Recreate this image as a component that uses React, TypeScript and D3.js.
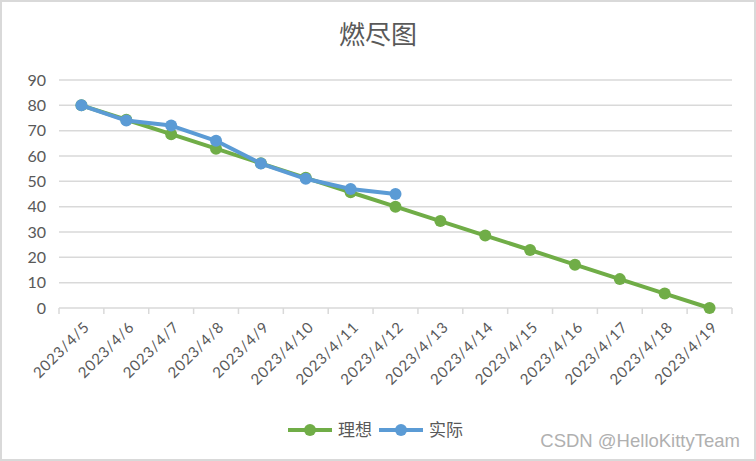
import React from 'react';
import * as d3 from 'd3';

const dates = [
  '2023/4/5', '2023/4/6', '2023/4/7', '2023/4/8', '2023/4/9', '2023/4/10', '2023/4/11', '2023/4/12',
  '2023/4/13', '2023/4/14', '2023/4/15', '2023/4/16', '2023/4/17', '2023/4/18', '2023/4/19',
];
const ideal = [80, 74.3, 68.6, 62.9, 57.1, 51.4, 45.7, 40, 34.3, 28.6, 22.9, 17.1, 11.4, 5.7, 0];
const actual = [80, 74, 72, 66, 57, 51, 47, 45];
const yTicks = [0, 10, 20, 30, 40, 50, 60, 70, 80, 90];

const W = 756;
const H = 461;
const GREEN = '#70ad47';
const BLUE = '#5b9bd5';
const TEXT = '#595959';
const numFont = 'Lato, "Noto Sans", sans-serif';
const cjkFont = '"Noto Sans CJK SC", sans-serif';

export default function App() {
  const x = d3.scaleBand<string>().domain(dates).range([59, 732]);
  const y = d3.scaleLinear().domain([0, 90]).range([308, 80]);
  const cx = (d: string) => (x(d) ?? 0) + x.bandwidth() / 2;

  const line = d3.line<number>()
    .x((_, i) => cx(dates[i]))
    .y(v => y(v));

  const series = [
    { name: '理想', values: ideal, color: GREEN },
    { name: '实际', values: actual, color: BLUE },
  ];

  const ticksX = [...dates.map(d => x(d) ?? 0), 732];

  return (
    <svg width={W} height={H} style={{ position: 'absolute', left: 0, top: 0 }}>
      <rect x={1} y={1} width={W - 2} height={H - 2} fill="#fff" stroke="#d9d9d9" strokeWidth={2} />
      <text x={378} y={44} textAnchor="middle" fontFamily={cjkFont} fontSize={26} fill={TEXT}>燃尽图</text>

      {yTicks.map(t => (
        <g key={t}>
          {t > 0 && <line x1={59} x2={732} y1={y(t)} y2={y(t)} stroke="#d9d9d9" strokeWidth={1.5} />}
          <text x={46} y={y(t) + 5.5} textAnchor="end" fontFamily={numFont} fontSize={16} fill={TEXT}>{t}</text>
        </g>
      ))}

      <line x1={59} x2={732} y1={y(0)} y2={y(0)} stroke="#d9d9d9" strokeWidth={1.5} />
      {ticksX.map((t, i) => (
        <line key={i} x1={t} x2={t} y1={y(0)} y2={y(0) + 6} stroke="#d9d9d9" strokeWidth={1.5} />
      ))}

      {dates.map(d => (
        <text key={d} transform={`translate(${cx(d) + 9},${y(0) + 20}) rotate(-45)`}
          textAnchor="end" fontFamily={numFont} fontSize={15} letterSpacing={0.8} fill={TEXT}>{d}</text>
      ))}

      {series.map(s => (
        <g key={s.name}>
          <path d={line(s.values) ?? ''} fill="none" stroke={s.color} strokeWidth={4} strokeLinejoin="round" />
          {s.values.map((v, i) => (
            <circle key={i} cx={cx(dates[i])} cy={y(v)} r={6} fill={s.color} />
          ))}
        </g>
      ))}

      {series.map((s, i) => {
        const lx = 288 + i * 91;
        return (
          <g key={s.name}>
            <line x1={lx} x2={lx + 44} y1={430} y2={430} stroke={s.color} strokeWidth={4} />
            <circle cx={lx + 22} cy={430} r={6} fill={s.color} />
            <text x={lx + 50} y={436} fontFamily={cjkFont} fontSize={17} fill={TEXT}>{s.name}</text>
          </g>
        );
      })}

      <text x={740} y={447} textAnchor="end" fontFamily='"Liberation Sans", Arial, sans-serif' fontSize={18.5} fill="#b0b0b0">CSDN @HelloKittyTeam</text>
    </svg>
  );
}
